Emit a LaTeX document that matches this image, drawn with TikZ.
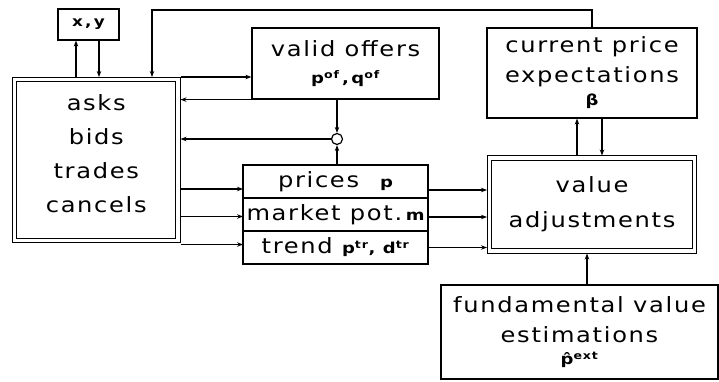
\documentclass[tikz,border=0pt]{standalone}
\usepackage{fontspec}
\setmainfont{DejaVu Sans}[FakeStretch=1.15, LetterSpace=8]
\newfontfamily\lblfont{DejaVu Sans Bold}[FakeStretch=1.2, LetterSpace=8]
\usetikzlibrary{positioning,arrows.meta}

\newcommand{\boxfont}{\fontsize{21}{30}\selectfont}
\newcommand{\sym}[1]{{\lblfont\fontsize{15}{15}\selectfont #1}}

\tikzset{
  blk/.style={draw, line width=1.2pt, inner sep=0pt, align=center, font=\boxfont},
  dblk/.style={blk, double, double distance=3.3pt, outer sep=2.5pt},
  row/.style={blk, outer sep=0pt, minimum width=185pt, minimum height=33pt},
  arr/.style={-{Stealth[length=6pt,width=4.5pt]}, line width=1.2pt},
  junction/.style={draw, circle, line width=1.2pt, minimum size=11pt, inner sep=0pt},
}

\begin{document}
\begin{tikzpicture}[x=1pt, y=-1pt]

  \useasboundingbox (0,0) rectangle (719,382);

  % Define nodes

  % order book
  \node[dblk, minimum width=163.5pt, minimum height=161pt,
        font=\fontsize{21}{34}\selectfont] (asks) at (96.25,160)
        {asks\\bids\\trades\\cancels\\[-22pt]}; %
  \node[blk, minimum width=61pt, minimum height=31pt,
        font=\lblfont\fontsize{14}{14}\selectfont] (xy) at (88.5,24.5) {x\,,\,y}; %

  % offers and statistics
  \node[blk, minimum width=187pt, minimum height=71pt] (vo) at (345.5,63.5)
        {valid offers\\[-3pt]\sym{p\textsuperscript{of}\,,\,q\textsuperscript{of}}}; %
  \node[row, anchor=north west] (prices) at (243,165) {prices\quad\sym{p}}; %
  \node[row, below=0pt of prices] (mpot) {market pot.\,\sym{m}}; %
  \node[row, below=0pt of mpot] (trend)
        {trend \sym{p\textsuperscript{tr}, d\textsuperscript{tr}}}; %
  \node[junction] (jn) at (337,139) {}; %

  % expectations
  \node[blk, minimum width=210pt, minimum height=90pt] (cpe) at (592,73)
        {current price\\expectations\\[-7pt]\sym{β}}; %
  \node[dblk, minimum width=205pt, minimum height=93pt] (value) at (592,204.5)
        {value\\[5pt]adjustments}; %
  \node[blk, minimum width=277pt, minimum height=94pt] (fve) at (579.5,332)
        {fundamental value\\estimations\\[-8pt]\sym{\^{p}\textsuperscript{ext}}}; %

  % Connect order book and x,y
  \coordinate (xy-up) at ([xshift=-12.5pt]xy.south);
  \coordinate (xy-dn) at ([xshift=10.5pt]xy.south);
  \draw[arr] (xy-up |- asks.north) -- (xy-up);
  \draw[arr] (xy-dn) -- (xy-dn |- asks.north);

  % feedback of expectations
  \coordinate (fb) at (152,10);
  \draw[arr] (cpe.north) |- (fb) -- (fb |- asks.north);

  % offers
  \draw[arr] (asks.north east) -- (asks.north east -| vo.west);
  \draw[arr] (vo.south west) -- (vo.south west -| asks.east);
  \draw[arr] (vo.south -| jn) -- (jn.north);
  \draw[arr] (prices.north -| jn) -- (jn.south);
  \draw[arr] (jn.west) -- (jn -| asks.east);

  % statistics
  \foreach \r/\sl/\sr in {prices/-7.5/-8.5, mpot/-2/-2.5, trend/3/0} {
    \coordinate (\r-in) at ([yshift=\sl pt]\r.west);
    \coordinate (\r-out) at ([yshift=\sr pt]\r.east);
    \draw[arr] (asks.east |- \r-in) -- (\r-in);
    \draw[arr] (\r-out) -- (\r-out -| value.west);
  }

  % value and expectations
  \coordinate (cpe-up) at ([xshift=-15pt]value.north);
  \coordinate (cpe-dn) at ([xshift=10pt]cpe.south);
  \coordinate (fve-up) at ([xshift=-5pt]value.south);
  \draw[arr] (cpe-up) -- (cpe-up |- cpe.south);
  \draw[arr] (cpe-dn) -- (cpe-dn |- value.north);
  \draw[arr] (fve-up |- fve.north) -- (fve-up);

\end{tikzpicture}
\end{document}
